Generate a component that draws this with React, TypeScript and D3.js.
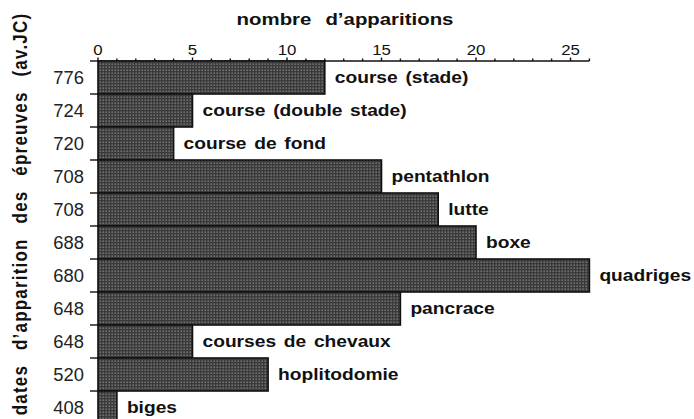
import React from "react";
import * as d3 from "d3";

const years = ["776", "724", "720", "708", "708", "688", "680", "648", "648", "520", "408"];
const events = [
  "course (stade)",
  "course (double stade)",
  "course de fond",
  "pentathlon",
  "lutte",
  "boxe",
  "quadriges",
  "pancrace",
  "courses de chevaux",
  "hoplitodomie",
  "biges",
];
const counts = [12, 5, 4, 15, 18, 20, 26, 16, 5, 9, 1];
const majorTicks = [0, 5, 10, 15, 20, 25];

const W = 694;
const H = 419;
const FONT = "'Liberation Sans', Arial, Helvetica, sans-serif";
const SX = 1.2;

export default function App() {
  const x0 = 98;
  const top = 61;
  const rowH = 33;
  const x = d3.scaleLinear().domain([0, 26]).range([x0, x0 + 26 * 18.9]);
  const idx = d3.range(events.length).map(String);
  const y = d3.scaleBand().domain(idx).range([top, top + rowH * events.length]).padding(0);
  const minor = d3.range(0, 27);

  return (
    <svg width={W} height={H} style={{ position: "absolute", left: 0, top: 0, background: "#fff" }}>
      <defs>
        <pattern id="dots" width="3" height="3" patternUnits="userSpaceOnUse">
          <rect width="3" height="3" fill="#3a3a3a" />
          <rect x="0.5" y="0.5" width="1.3" height="1.3" fill="#8a8a8a" />
        </pattern>
      </defs>
      <text
        transform={`translate(345, 25) scale(${SX},1)`}
        textAnchor="middle"
        fontFamily={FONT}
        fontWeight="bold"
        fontSize={17}
        wordSpacing={7}
        fill="#111"
      >
        nombre d’apparitions
      </text>
      <text
        transform={`translate(27, 214) scale(1.2,1) rotate(-90)`}
        textAnchor="middle"
        fontFamily={FONT}
        fontWeight="bold"
        fontSize={17}
        wordSpacing={9}
        letterSpacing={1.2}
        fill="#111"
      >
        dates d’apparition des épreuves (av.JC)
      </text>
      {/* x axis */}
      <line x1={x(0)} x2={x(26)} y1={top} y2={top} stroke="#111" strokeWidth={1.6} />
      {minor.map((t) => (
        <line key={"m" + t} x1={x(t)} x2={x(t)} y1={top} y2={top - (t % 5 === 0 ? 3.5 : 2.5)} stroke="#111" strokeWidth={1.4} />
      ))}
      {majorTicks.map((t) => (
        <text
          key={"t" + t}
          transform={`translate(${x(t)}, ${top - 6}) scale(${SX},1)`}
          textAnchor="middle"
          fontFamily={FONT}
          fontSize={14}
          fill="#111"
        >
          {t}
        </text>
      ))}
      {/* bars */}
      {counts.map((c, i) => (
        <rect
          key={"b" + i}
          x={x(0)}
          y={y(String(i))!}
          width={x(c) - x(0)}
          height={y.bandwidth()}
          fill="url(#dots)"
          stroke="#111"
          strokeWidth={1.6}
        />
      ))}
      {/* y ticks */}
      {d3.range(events.length + 1).map((i) => (
        <line key={"yt" + i} x1={x0 - 8} x2={x0} y1={top + i * rowH} y2={top + i * rowH} stroke="#111" strokeWidth={1.4} />
      ))}
      {years.map((yr, i) => (
        <text
          key={"y" + i}
          transform={`translate(${x0 - 14}, ${y(String(i))! + y.bandwidth() / 2 + 6.5}) scale(1.05,1)`}
          textAnchor="end"
          fontFamily={FONT}
          fontSize={17.5}
          fill="#222"
        >
          {yr}
        </text>
      ))}
      {events.map((e, i) => (
        <text
          key={"e" + i}
          transform={`translate(${x(counts[i]) + 10}, ${y(String(i))! + y.bandwidth() / 2 + 5}) scale(${SX},1)`}
          fontFamily={FONT}
          fontWeight="bold"
          fontSize={16}
          wordSpacing={2}
          fill="#111"
        >
          {e}
        </text>
      ))}
    </svg>
  );
}
